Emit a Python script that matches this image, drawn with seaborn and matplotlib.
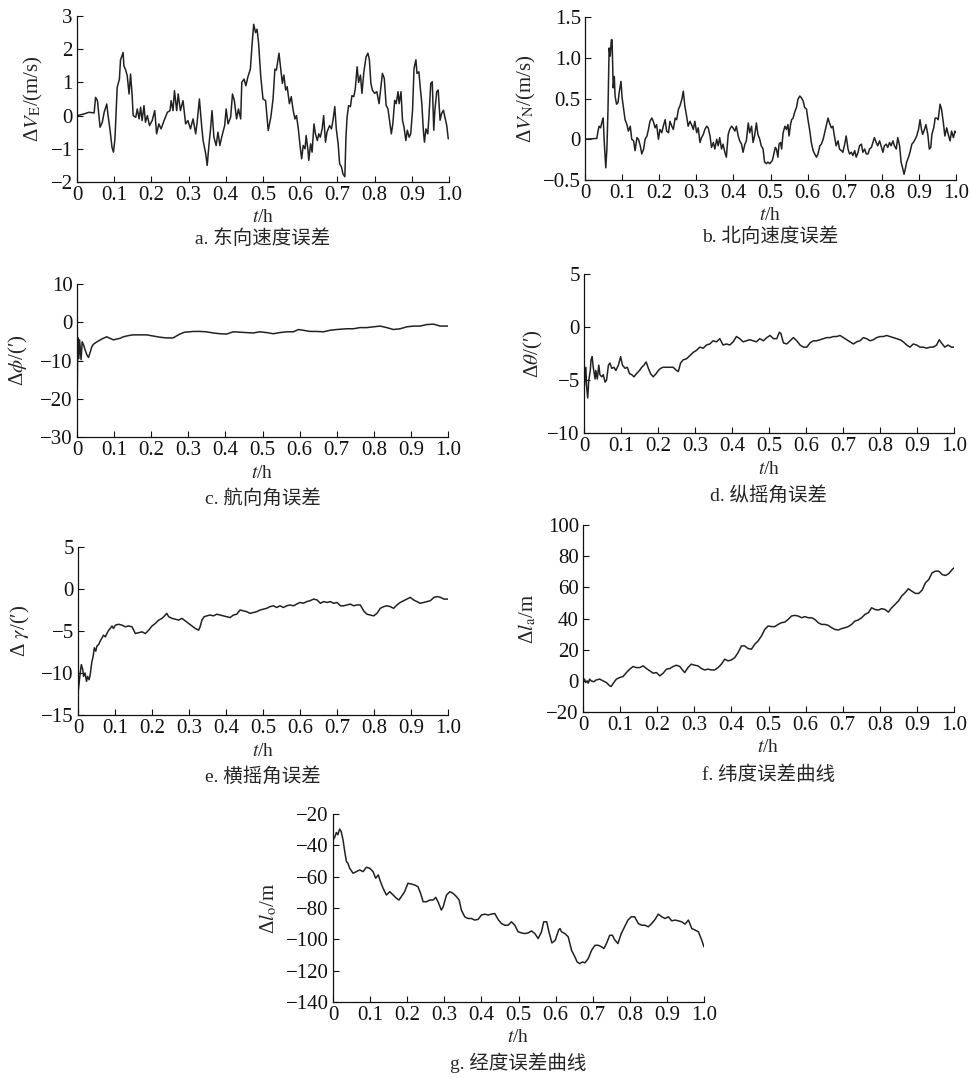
from __future__ import annotations

import matplotlib

matplotlib.use("Agg")

import matplotlib.pyplot as plt
import seaborn as sns

FIG_W, FIG_H = 973, 1078
LINE_COLOR = "#222222"

# shared x axis
X_TICKS = [0.0, 0.1, 0.2, 0.3, 0.4, 0.5, 0.6, 0.7, 0.8, 0.9, 1.0]
X_TICK_LABELS = ["0", "0.1", "0.2", "0.3", "0.4", "0.5", "0.6", "0.7", "0.8", "0.9", "1.0"]

# a. east velocity error (m/s)
A_T = [0.000, 0.019, 0.032, 0.046, 0.050, 0.055, 0.062, 0.068, 0.073, 0.080, 0.083, 0.089, 0.094, 0.098, 0.102,
       0.108, 0.114, 0.117, 0.124, 0.126, 0.131, 0.135, 0.140, 0.144, 0.148, 0.151, 0.158, 0.162, 0.167, 0.171,
       0.175, 0.180, 0.184, 0.189, 0.195, 0.202, 0.209, 0.214, 0.220, 0.226, 0.234, 0.243, 0.250, 0.253, 0.258,
       0.262, 0.268, 0.272, 0.278, 0.285, 0.292, 0.298, 0.305, 0.312, 0.319, 0.323, 0.329, 0.335, 0.339, 0.346,
       0.350, 0.355, 0.359, 0.363, 0.368, 0.374, 0.379, 0.384, 0.390, 0.397, 0.401, 0.406, 0.413, 0.418, 0.423,
       0.429, 0.434, 0.440, 0.443, 0.449, 0.454, 0.459, 0.466, 0.471, 0.475, 0.480, 0.484, 0.488,
       0.494, 0.500, 0.507, 0.514, 0.521, 0.527, 0.532, 0.536, 0.543, 0.547, 0.552, 0.556, 0.561, 0.565, 0.571,
       0.576, 0.581, 0.586, 0.590, 0.595, 0.600, 0.604, 0.608, 0.613, 0.616, 0.621, 0.623, 0.628, 0.632, 0.637,
       0.641, 0.646, 0.650, 0.654, 0.659, 0.663, 0.668, 0.672, 0.679, 0.684, 0.688, 0.693, 0.697, 0.702, 0.706,
       0.711, 0.715, 0.720, 0.723, 0.726, 0.730, 0.735, 0.739, 0.744, 0.748, 0.753, 0.757, 0.762, 0.766, 0.771,
       0.777, 0.782, 0.786, 0.790, 0.794, 0.800, 0.806, 0.812, 0.818, 0.821, 0.826, 0.831, 0.836, 0.840, 0.845,
       0.849, 0.854, 0.858, 0.863, 0.866, 0.871, 0.875, 0.879, 0.884, 0.888, 0.893, 0.897, 0.902, 0.906, 0.911,
       0.914, 0.919, 0.923, 0.927, 0.931, 0.934, 0.938, 0.943, 0.946, 0.951, 0.955, 0.959, 0.962, 0.967, 0.971,
       0.976, 0.980, 0.985, 0.989, 0.994, 0.998]
A_V = [0.00, 0.05, 0.10, 0.08, 0.55, 0.45, -0.35, -0.20, 0.10, 0.35, 0.05, -0.45, -0.95, -1.10, -0.70,
       0.85, 1.10, 1.68, 1.90, 1.50, 1.37, 1.20, 0.65, 1.25, 0.65, 0.00, -0.05, 0.20, -0.10, 0.25,
       -0.15, 0.30, -0.20, 0.00, -0.30, -0.15, 0.15, -0.55, -0.25, -0.40, -0.15, 0.10, 0.15, 0.45, 0.15,
       0.75, 0.15, 0.65, 0.15, 0.45, -0.25, -0.15, -0.40, -0.10, -0.55, -0.20, 0.50, -0.30, -0.75, -1.15,
       -1.50, -0.85, -0.40, 0.15, -0.65, -0.90, -0.50, -0.90, -0.60, -0.30, 0.20, -0.25, -0.05, 0.65, 0.45,
       -0.10, 0.20, -0.10, 1.00, 1.10, 0.90, 1.15, 1.40, 2.20, 2.75, 2.50, 2.60, 2.20,
       1.17, 0.50, 0.45, -0.45, -0.05, 0.50, 1.40, 1.37, 1.88, 1.47, 0.97, 1.22, 0.77, 0.87, 0.36,
       0.57, 0.16, -0.10, 0.00, -0.40, -0.95, -1.30, -0.90, -1.00, -0.60, -1.05, -1.35, -0.85, -1.10, -0.25,
       -0.55, -0.75, -0.55, -0.65, -0.40, 0.00, -0.80, -0.50, -0.30, -0.40, -0.15, 0.27, -0.40, -0.85, -1.45,
       -1.55, -1.76, -1.84, -0.65, -0.05, 0.30, 0.27, 0.60, 0.57, 0.80, 1.47, 1.00, 1.22, 0.67, 1.30,
       1.77, 1.88, 1.68, 0.97, 0.77, 0.67, 0.72, 0.36, 0.97, 1.27, 1.12, 0.31, 0.20, -0.14, -0.55,
       -0.25, 0.46, 0.36, 0.72, 0.36, 0.72, -0.14, -0.34, -0.75, -0.44, -0.65, -0.55, 0.16, 1.42, 1.68,
       1.27, 1.32, 0.82, 0.36, -0.44, -0.80, -0.40, -0.55, -0.05, 0.97, 1.02, -0.44, 0.16, 0.72, 0.77,
       -0.14, 0.06, 0.16, -0.05, -0.30, -0.70]
A_YTICKS = [-2, -1, 0, 1, 2, 3]
A_YTICK_LABELS = ["\u22122", "\u22121", "0", "1", "2", "3"]

# b. north velocity error (m/s)
B_T = [0.000, 0.032, 0.035, 0.038, 0.042, 0.046, 0.049, 0.052, 0.056, 0.059, 0.062, 0.065, 0.068, 0.071, 0.073,
       0.076, 0.079, 0.081, 0.085, 0.089, 0.092, 0.097, 0.100, 0.104, 0.108, 0.113, 0.117, 0.122, 0.126, 0.131,
       0.135, 0.140, 0.144, 0.149, 0.153, 0.158, 0.162, 0.167, 0.171, 0.175, 0.180, 0.184, 0.189, 0.193, 0.198,
       0.202, 0.207, 0.211, 0.216, 0.220, 0.225, 0.229, 0.234, 0.238, 0.243, 0.247, 0.252, 0.256, 0.261, 0.265,
       0.269, 0.274, 0.278, 0.283, 0.287, 0.292, 0.296, 0.301, 0.305, 0.310, 0.314, 0.319, 0.323, 0.328, 0.332,
       0.337, 0.341, 0.346, 0.350, 0.355, 0.359, 0.363, 0.368, 0.372, 0.377, 0.381, 0.386, 0.390, 0.395, 0.399,
       0.404, 0.408, 0.413, 0.417, 0.422, 0.426, 0.431, 0.435, 0.440, 0.444, 0.449, 0.453, 0.457, 0.462, 0.466,
       0.471, 0.475, 0.480, 0.484, 0.489, 0.493,
       0.498, 0.505, 0.509, 0.513, 0.516, 0.520, 0.523, 0.527, 0.530, 0.534, 0.539, 0.543, 0.547, 0.550, 0.554,
       0.557, 0.561, 0.565, 0.570, 0.574, 0.579, 0.583, 0.588, 0.592, 0.597, 0.601, 0.606, 0.610, 0.615, 0.619,
       0.624, 0.628, 0.633, 0.637, 0.642, 0.646, 0.651, 0.655, 0.659, 0.664, 0.668, 0.673, 0.677, 0.682, 0.686,
       0.691, 0.695, 0.700, 0.704, 0.709, 0.713, 0.718, 0.722, 0.727, 0.731, 0.736, 0.740, 0.745, 0.749, 0.754,
       0.758, 0.763, 0.767, 0.772, 0.776, 0.780, 0.785, 0.789, 0.794, 0.798, 0.803, 0.807, 0.812, 0.816, 0.821,
       0.825, 0.830, 0.834, 0.839, 0.843, 0.848, 0.852, 0.857, 0.860, 0.864, 0.867, 0.872, 0.876, 0.881, 0.885,
       0.890, 0.894, 0.899, 0.903, 0.907, 0.910, 0.915, 0.919, 0.924, 0.928, 0.932, 0.935, 0.940, 0.944, 0.948,
       0.952, 0.957, 0.961, 0.966, 0.970, 0.975, 0.979, 0.984, 0.988, 0.993, 0.997, 1.000]
B_V = [0.00, 0.01, 0.10, 0.16, 0.14, 0.22, 0.26, -0.04, -0.35, -0.12, 0.37, 1.12, 1.02, 1.22, 1.22,
       0.63, 0.77, 0.53, 0.43, 0.45, 0.57, 0.71, 0.51, 0.37, 0.24, 0.18, 0.10, 0.16, 0.00, -0.02,
       -0.14, 0.02, 0.00, -0.08, -0.18, -0.12, 0.00, 0.04, 0.12, 0.22, 0.26, 0.22, 0.14, 0.18, 0.00,
       0.12, 0.08, 0.16, 0.24, 0.10, 0.08, 0.22, 0.16, 0.12, 0.26, 0.24, 0.37, 0.41, 0.49, 0.59,
       0.41, 0.28, 0.16, 0.22, 0.18, 0.12, 0.22, 0.08, 0.14, -0.04, 0.02, 0.06, 0.12, 0.16, 0.14,
       0.04, -0.10, -0.04, -0.12, 0.00, -0.08, 0.02, -0.12, -0.06, -0.16, -0.22, 0.06, 0.12, 0.16, 0.14,
       0.10, 0.16, 0.04, -0.02, -0.06, -0.16, -0.06, -0.02, 0.20, 0.08, 0.16, -0.04, 0.04, 0.20, 0.06,
       0.00, -0.08, -0.12, -0.28, -0.30, -0.28,
       -0.30, -0.26, -0.18, -0.10, -0.12, -0.22, -0.06, -0.04, -0.12, 0.08, 0.16, 0.12, 0.18, 0.04, 0.18,
       0.24, 0.26, 0.33, 0.39, 0.49, 0.53, 0.51, 0.47, 0.39, 0.37, 0.24, 0.10, -0.04, -0.14, -0.18,
       -0.22, -0.18, -0.08, -0.06, 0.00, 0.08, 0.18, 0.26, 0.20, 0.14, 0.16, 0.02, -0.08, -0.02, -0.12,
       -0.14, -0.16, -0.06, 0.04, -0.12, -0.18, -0.16, -0.20, -0.14, -0.22, -0.16, -0.08, -0.06, -0.16, -0.12,
       -0.18, -0.18, -0.12, -0.10, -0.04, 0.02, -0.04, -0.08, -0.02, -0.08, -0.16, -0.08, -0.06, -0.10, -0.04,
       -0.08, -0.02, -0.08, -0.12, 0.02, -0.08, -0.28, -0.37, -0.43, -0.35, -0.28, -0.22, -0.16, -0.06, -0.04,
       0.00, 0.04, 0.12, 0.24, 0.12, 0.06, 0.12, 0.18, 0.06, -0.12, -0.10, 0.06, 0.14, 0.26, 0.26,
       0.24, 0.43, 0.37, 0.20, 0.04, 0.14, 0.06, -0.02, 0.10, 0.02, 0.10, 0.08]
B_YTICKS = [-0.5, 0, 0.5, 1.0, 1.5]
B_YTICK_LABELS = ["\u22120.5", "0", "0.5", "1.0", "1.5"]

# c. heading error (arcmin)
C_T = [0.000, 0.002, 0.005, 0.007, 0.011, 0.014, 0.018, 0.022, 0.027, 0.031, 0.036, 0.040, 0.045, 0.054, 0.063,
       0.071, 0.080, 0.089, 0.098, 0.107, 0.116, 0.125, 0.138, 0.152, 0.170, 0.188, 0.205, 0.223, 0.241, 0.259,
       0.277, 0.290, 0.304, 0.313, 0.331, 0.349, 0.367, 0.385, 0.403, 0.421, 0.439, 0.457, 0.475, 0.493, 0.511,
       0.529, 0.547, 0.565, 0.583, 0.597, 0.610, 0.628, 0.646, 0.664, 0.682, 0.700, 0.727, 0.745, 0.763, 0.781,
       0.799, 0.817, 0.835, 0.853, 0.871, 0.889, 0.907, 0.925, 0.943, 0.961, 0.979, 1.000]
C_V = [-25.0, -4.0, -9.5, -4.6, -9.8, -5.1, -6.0, -7.3, -8.6, -9.2, -7.7, -6.4, -5.7, -5.1, -4.6,
       -4.2, -3.8, -4.2, -4.6, -4.4, -4.2, -3.8, -3.5, -3.3, -3.3, -3.3, -3.6, -3.9, -4.1, -4.1,
       -3.1, -2.6, -2.5, -2.4, -2.4, -2.5, -2.8, -3.0, -3.1, -2.5, -2.6, -2.7, -2.8, -2.5, -2.7,
       -3.0, -2.7, -2.5, -2.5, -1.9, -2.1, -2.4, -2.4, -2.5, -2.1, -1.9, -1.7, -1.7, -1.4, -1.4,
       -1.2, -1.0, -1.4, -1.9, -1.7, -1.2, -1.0, -1.0, -0.6, -0.5, -1.0, -1.0]
C_YTICKS = [-30, -20, -10, 0, 10]
C_YTICK_LABELS = ["\u221230", "\u221220", "\u221210", "0", "10"]

# d. pitch error (arcmin)
D_T = [0.000, 0.001, 0.005, 0.007, 0.010, 0.013, 0.017, 0.019, 0.022, 0.025, 0.030, 0.032, 0.036, 0.040, 0.043,
       0.048, 0.052, 0.057, 0.061, 0.066, 0.070, 0.075, 0.081, 0.086, 0.093, 0.099, 0.104, 0.111, 0.117, 0.123,
       0.129, 0.135, 0.142, 0.150, 0.156, 0.162, 0.168, 0.174, 0.180, 0.187, 0.195, 0.201, 0.207, 0.214, 0.223,
       0.232, 0.241, 0.250, 0.255, 0.261, 0.268, 0.277, 0.286, 0.295, 0.304, 0.313, 0.322, 0.331, 0.340, 0.349,
       0.358, 0.367, 0.376, 0.385, 0.394, 0.403, 0.412, 0.421, 0.430, 0.439, 0.448, 0.457, 0.466, 0.475, 0.485,
       0.494, 0.503, 0.512, 0.521, 0.528, 0.532, 0.539, 0.548, 0.557, 0.566, 0.575, 0.584, 0.593, 0.602, 0.611,
       0.620, 0.629, 0.638, 0.647, 0.656, 0.665, 0.674, 0.683, 0.692, 0.701, 0.710, 0.719, 0.728, 0.737, 0.746,
       0.755, 0.764, 0.773, 0.782, 0.791, 0.800, 0.809, 0.818, 0.827, 0.836, 0.845, 0.854, 0.863, 0.872, 0.881,
       0.890, 0.899, 0.908, 0.917, 0.926, 0.935, 0.944, 0.953, 0.960, 0.966, 0.975, 0.984, 0.993, 1.000]
D_V = [-3.8, -5.6, -3.8, -5.6, -6.7, -5.0, -4.1, -3.1, -2.8, -3.8, -4.9, -4.1, -4.9, -3.6, -4.5,
       -4.7, -4.5, -5.2, -5.0, -3.6, -3.4, -3.9, -3.8, -4.1, -3.6, -2.8, -3.6, -3.9, -3.8, -4.4,
       -4.5, -4.7, -4.4, -4.1, -3.8, -3.6, -3.3, -3.9, -4.4, -4.7, -4.4, -4.1, -3.9, -3.8, -3.8,
       -3.8, -3.8, -4.1, -4.2, -3.4, -3.1, -3.0, -2.7, -2.4, -2.2, -1.9, -2.0, -1.7, -1.6, -1.3,
       -1.4, -1.1, -1.7, -1.6, -1.7, -1.4, -0.9, -1.1, -1.4, -1.3, -1.2, -1.3, -1.4, -1.1, -1.3,
       -1.0, -0.8, -1.1, -1.1, -0.5, -0.6, -1.5, -1.6, -1.3, -1.0, -1.3, -1.7, -1.9, -1.9, -1.5,
       -1.3, -1.3, -1.2, -1.1, -1.0, -1.0, -0.9, -0.9, -0.8, -1.0, -1.2, -1.4, -1.6, -1.4, -1.3,
       -1.0, -1.1, -1.3, -1.2, -1.0, -0.9, -0.9, -0.8, -0.9, -1.0, -1.1, -1.2, -1.4, -1.7, -1.9,
       -1.6, -1.7, -1.9, -1.9, -2.0, -1.9, -1.9, -1.7, -1.2, -1.5, -1.9, -1.7, -1.9, -1.9]
D_YTICKS = [-10, -5, 0, 5]
D_YTICK_LABELS = ["\u221210", "\u22125", "0", "5"]

# e. roll error (arcmin)
E_T = [0.000, 0.004, 0.006, 0.009, 0.013, 0.015, 0.019, 0.023, 0.026, 0.030, 0.033, 0.037, 0.041, 0.044, 0.048,
       0.051, 0.056, 0.060, 0.065, 0.069, 0.074, 0.078, 0.083, 0.087, 0.092, 0.096, 0.101, 0.110, 0.119, 0.128,
       0.137, 0.146, 0.155, 0.164, 0.173, 0.182, 0.191, 0.200, 0.209, 0.218, 0.227, 0.236, 0.240, 0.245, 0.254,
       0.263, 0.272, 0.281, 0.290, 0.299, 0.308, 0.317, 0.326, 0.330, 0.335, 0.341, 0.348, 0.357, 0.366, 0.375,
       0.384, 0.393, 0.402, 0.411, 0.420, 0.429, 0.438, 0.447, 0.456, 0.465, 0.474, 0.483, 0.492, 0.501, 0.510,
       0.519, 0.528, 0.537, 0.546, 0.555, 0.564, 0.573, 0.582, 0.591, 0.600, 0.609, 0.618, 0.627, 0.637, 0.646,
       0.655, 0.664, 0.673, 0.682, 0.691, 0.700, 0.709, 0.718, 0.727, 0.736, 0.745, 0.754, 0.763, 0.772, 0.781,
       0.790, 0.799, 0.808, 0.817, 0.826, 0.835, 0.844, 0.853, 0.862, 0.871, 0.880, 0.889, 0.898, 0.907, 0.916,
       0.925, 0.934, 0.943, 0.952, 0.962, 0.971, 0.980, 0.989, 1.000]
E_V = [-12.4, -10.8, -10.0, -9.0, -9.6, -10.4, -10.0, -11.0, -10.4, -10.8, -10.2, -8.8, -8.0, -7.0, -7.4,
       -6.8, -6.6, -6.2, -5.8, -5.5, -5.7, -5.3, -4.9, -4.7, -4.4, -4.7, -4.3, -4.2, -4.3, -4.5,
       -4.4, -4.5, -5.3, -5.2, -5.1, -5.3, -4.9, -4.4, -4.1, -3.7, -3.5, -3.1, -2.9, -3.3, -3.5,
       -3.6, -3.7, -3.5, -3.8, -4.1, -4.4, -4.7, -4.9, -4.5, -3.7, -3.3, -3.2, -3.1, -3.2, -3.0,
       -3.1, -3.2, -3.3, -3.4, -3.1, -3.0, -2.5, -2.6, -2.7, -2.9, -2.8, -2.7, -2.5, -2.4, -2.3,
       -2.1, -2.0, -2.2, -2.0, -2.2, -2.0, -1.9, -2.0, -1.8, -1.6, -1.7, -1.5, -1.4, -1.2, -1.3,
       -1.7, -1.5, -1.6, -1.5, -1.7, -1.6, -2.0, -2.0, -1.9, -1.8, -2.0, -1.9, -1.9, -2.6, -3.0,
       -3.1, -3.2, -2.9, -2.3, -2.1, -2.0, -2.1, -2.3, -1.9, -1.6, -1.4, -1.2, -1.0, -1.3, -1.5,
       -1.7, -1.6, -1.5, -1.4, -1.0, -0.9, -1.0, -1.2, -1.2]
E_YTICKS = [-15, -10, -5, 0, 5]
E_YTICK_LABELS = ["\u221215", "\u221210", "\u22125", "0", "5"]

# f. latitude error (m)
F_T = [0.000, 0.004, 0.007, 0.011, 0.014, 0.018, 0.022, 0.029, 0.036, 0.045, 0.054, 0.063, 0.072, 0.076, 0.083,
       0.090, 0.099, 0.108, 0.117, 0.126, 0.135, 0.144, 0.153, 0.162, 0.171, 0.180, 0.189, 0.198, 0.207, 0.216,
       0.225, 0.234, 0.243, 0.252, 0.261, 0.270, 0.274, 0.283, 0.292, 0.301, 0.310, 0.319, 0.328, 0.337, 0.346,
       0.355, 0.364, 0.373, 0.382, 0.391, 0.400, 0.409, 0.418, 0.427, 0.436, 0.445, 0.454, 0.463, 0.472, 0.481,
       0.490, 0.499, 0.508, 0.517, 0.526, 0.535, 0.544, 0.553, 0.562, 0.571, 0.580, 0.589, 0.598, 0.607, 0.616,
       0.625, 0.634, 0.643, 0.652, 0.661, 0.670, 0.679, 0.688, 0.697, 0.706, 0.715, 0.724, 0.733, 0.742, 0.751,
       0.760, 0.769, 0.778, 0.787, 0.796, 0.805, 0.814, 0.823, 0.832, 0.841, 0.850, 0.859, 0.868, 0.877, 0.886,
       0.896, 0.905, 0.914, 0.923, 0.932, 0.941, 0.950, 0.959, 0.968, 0.977, 0.986, 0.995, 1.000]
F_V = [0.0, 1.1, -1.1, 0.0, -1.5, 1.1, 0.0, -0.6, 0.6, 1.1, 0.0, -1.1, -3.2, -3.6, -1.1,
       1.1, 2.1, 2.8, 5.3, 7.5, 9.2, 8.5, 8.5, 9.6, 7.9, 6.4, 4.9, 5.3, 3.2, 4.9,
       7.5, 7.9, 9.2, 10.0, 9.2, 6.4, 5.3, 8.5, 10.7, 10.0, 9.6, 7.9, 7.0, 7.5, 7.0,
       7.0, 8.5, 10.7, 13.9, 12.8, 13.4, 14.9, 18.1, 22.4, 22.4, 20.7, 20.3, 23.5, 25.6, 28.8,
       33.0, 35.2, 34.8, 34.8, 36.2, 37.3, 37.7, 39.4, 41.6, 42.0, 41.6, 40.5, 41.2, 40.5, 40.5,
       39.4, 37.3, 36.2, 36.2, 35.6, 34.1, 33.0, 32.6, 33.5, 34.1, 34.8, 36.2, 38.4, 39.0, 40.5,
       42.6, 43.7, 46.9, 45.8, 45.4, 46.3, 45.8, 44.1, 46.9, 49.0, 51.2, 54.4, 56.5, 59.1, 57.6,
       56.1, 56.1, 58.2, 62.9, 65.0, 69.3, 70.4, 70.4, 68.2, 67.6, 68.8, 71.4, 72.5]
F_YTICKS = [-20, 0, 20, 40, 60, 80, 100]
F_YTICK_LABELS = ["\u221220", "0", "20", "40", "60", "80", "100"]

# g. longitude error (m)
G_T = [0.000, 0.005, 0.009, 0.013, 0.018, 0.022, 0.027, 0.031, 0.036, 0.040, 0.045, 0.054, 0.063, 0.072, 0.081,
       0.090, 0.099, 0.108, 0.115, 0.122, 0.128, 0.135, 0.144, 0.153, 0.162, 0.171, 0.178, 0.184, 0.193, 0.202,
       0.211, 0.220, 0.229, 0.236, 0.243, 0.252, 0.261, 0.270, 0.277, 0.283, 0.292, 0.297, 0.306, 0.315, 0.324,
       0.333, 0.340, 0.346, 0.355, 0.364, 0.373, 0.382, 0.391, 0.400, 0.409, 0.418, 0.427, 0.436, 0.445, 0.454,
       0.463, 0.472, 0.481, 0.490, 0.499, 0.508, 0.517, 0.526, 0.535, 0.544, 0.553, 0.562, 0.568, 0.576, 0.582,
       0.590, 0.599, 0.608, 0.612, 0.616, 0.625, 0.634, 0.643, 0.652, 0.658, 0.665, 0.673, 0.679, 0.688, 0.697,
       0.706, 0.715, 0.724, 0.730, 0.737, 0.746, 0.753, 0.759, 0.768, 0.777, 0.786, 0.795, 0.804, 0.813, 0.823,
       0.832, 0.841, 0.850, 0.859, 0.868, 0.877, 0.886, 0.895, 0.904, 0.913, 0.922, 0.931, 0.940, 0.949, 0.958,
       0.967, 0.976, 0.985, 0.994, 1.000]
G_V = [-36.5, -34.7, -31.8, -33.2, -29.6, -31.1, -36.5, -42.9, -50.3, -51.4, -54.6, -57.8, -56.8, -55.7, -56.8,
       -54.0, -54.6, -56.8, -61.0, -58.9, -63.2, -67.4, -71.7, -69.6, -71.7, -73.8, -74.9, -72.8, -69.6, -64.2,
       -64.7, -65.3, -66.4, -70.6, -76.0, -76.0, -74.9, -74.9, -73.2, -76.0, -81.3, -79.2, -71.7, -69.6, -70.7,
       -72.8, -74.9, -81.3, -85.6, -86.7, -86.7, -87.7, -87.3, -84.5, -83.9, -84.5, -83.9, -83.5, -87.3, -89.9,
       -91.0, -91.0, -88.8, -91.0, -95.2, -95.9, -96.3, -95.9, -94.6, -96.3, -99.5, -95.2, -88.8, -88.8, -95.2,
       -102.3, -100.6, -94.2, -93.1, -95.2, -96.3, -98.4, -107.0, -111.2, -114.4, -115.5, -114.4, -115.0, -112.3, -107.0,
       -103.8, -103.8, -104.8, -105.9, -102.7, -97.4, -97.4, -100.2, -102.7, -96.3, -92.0, -87.7, -85.6, -85.6, -89.9,
       -91.0, -91.0, -92.0, -89.9, -87.3, -83.9, -85.6, -86.7, -85.6, -88.2, -87.7, -88.2, -88.8, -90.3, -87.7,
       -93.1, -94.1, -95.2, -100.6, -104.8]
G_YTICKS = [-140, -120, -100, -80, -60, -40, -20]
G_YTICK_LABELS = ["\u2212140", "\u2212120", "\u2212100", "\u221280", "\u221260", "\u221240", "\u221220"]

Y_LABELS = [
    "Δ$V_{\\mathrm{E}}$/(m/s)",
    "Δ$V_{\\mathrm{N}}$/(m/s)",
    "Δ$\\phi$/(′)",
    "Δ$\\theta$/(′)",
    "Δ $\\gamma$/(′)",
    "Δ$l_{\\mathrm{a}}$/m",
    "Δ$l_{\\mathrm{o}}$/m",
]
CAPTIONS = ["a. 东向速度误差", "b. 北向速度误差", "c. 航向角误差", "d. 纵摇角误差",
            "e. 横摇角误差", "f. 纬度误差曲线", "g. 经度误差曲线"]


def setup_theme() -> None:
    sns.set_theme(style="ticks")
    plt.rcParams["font.family"] = ["Liberation Serif", "DejaVu Serif", "Noto Sans CJK SC"]
    plt.rcParams["mathtext.fontset"] = "stix"
    plt.rcParams["axes.unicode_minus"] = True
    plt.rcParams["axes.linewidth"] = 0.9
    plt.rcParams["axes.edgecolor"] = "#111111"
    plt.rcParams["figure.facecolor"] = "white"


def style_axis(ax: plt.Axes, yticks, ylabels, ylim) -> None:
    sns.despine(ax=ax)
    ax.set_xlim(0, 1)
    ax.set_ylim(*ylim)
    ax.set_xticks(X_TICKS)
    ax.set_xticklabels(X_TICK_LABELS)
    ax.set_yticks(yticks)
    ax.set_yticklabels(ylabels)
    ax.tick_params(direction="in", length=4, width=0.8, labelsize=15, pad=3, colors="#111111")


def main() -> None:
    setup_theme()
    fig = plt.figure(figsize=(FIG_W / 100, FIG_H / 100), dpi=100)

    # panel boxes in pixels: left, top, right, bottom ; ylabel gap ; caption gap
    panels = [
        ((77, 16, 449, 182), 44, 57, A_T, A_V, A_YTICKS, A_YTICK_LABELS),
        ((585, 17, 956, 180), 59, 57, B_T, B_V, B_YTICKS, B_YTICK_LABELS),
        ((77, 284, 448, 437), 59, 61, C_T, C_V, C_YTICKS, C_YTICK_LABELS),
        ((584, 274, 954, 433), 51, 62, D_T, D_V, D_YTICKS, D_YTICK_LABELS),
        ((78, 547, 448, 715), 58, 61, E_T, E_V, E_YTICKS, E_YTICK_LABELS),
        ((583, 525, 954, 712), 56, 63, F_T, F_V, F_YTICKS, F_YTICK_LABELS),
        ((333, 814, 704, 1002), 65, 61, G_T, G_V, G_YTICKS, G_YTICK_LABELS),
    ]

    for i, (box, ygap, capgap, t, v, yt, ytl) in enumerate(panels):
        x0, y0, x1, y1 = box
        w, h = x1 - x0, y1 - y0
        ax = fig.add_axes([x0 / FIG_W, 1 - y1 / FIG_H, w / FIG_W, h / FIG_H])
        sns.lineplot(x=t, y=v, ax=ax, color=LINE_COLOR, linewidth=1.1, estimator=None, sort=False)
        style_axis(ax, yt, ytl, (yt[0], yt[-1]))
        ax.set_ylabel(Y_LABELS[i], fontsize=15, va="center")
        ax.yaxis.set_label_coords(-ygap / w, 0.5)
        ax.set_xlabel(r"$t$/h", fontsize=14, va="center")
        ax.xaxis.set_label_coords(0.5, -36 / h)
        ax.text(0.5, -capgap / h, CAPTIONS[i], transform=ax.transAxes, ha="center", va="center", fontsize=14)

    fig.savefig("out.png", dpi=100)
    plt.close(fig)


if __name__ == "__main__":
    main()
